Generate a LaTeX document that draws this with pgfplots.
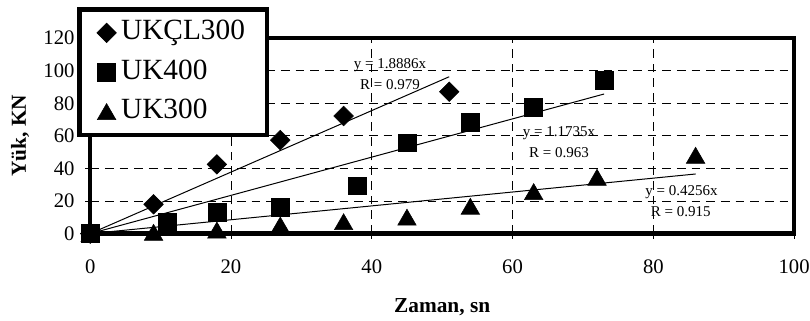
\documentclass[border=0pt]{standalone}
\usepackage{fontspec}
\setmainfont{Liberation Serif}
\usepackage{pgfplots}
\pgfplotsset{compat=1.18}
\begin{document}
\begin{tikzpicture}
\begin{axis}[name=ax,
  scale only axis, width=527.9pt, height=146.6pt,
  xmin=0, xmax=100, ymin=0, ymax=120,
  xtick={0,20,...,100}, ytick={0,20,...,120},
  /pgf/number format/assume math mode=true,
  tick label style={font=\fontsize{15.5}{18}\selectfont},
  xticklabel style={yshift=-12.5pt},
  yticklabel style={xshift=-4.5pt},
  axis line style={line width=3.3pt},
  tick align=outside, major tick length=3.75pt,
  tick style={black, line width=0.6pt},
  xtick pos=left, ytick pos=left,
  grid=major,
  major grid style={black, line width=0.6pt, dash pattern=on 6.5pt off 4.5pt},
  clip=false,
  xlabel={Zaman, sn}, ylabel={Yük, KN},
  label style={font=\fontsize{16}{19}\selectfont\bfseries},
  xlabel style={at={(axis description cs:0.5,0)}, anchor=base, yshift=-59pt},
  ylabel style={at={(axis description cs:-0.0913,0.5)}, anchor=base},
  legend style={at={(-0.0183,1.1575)}, anchor=north west, draw=black,
    line width=3.2pt, fill=white, font=\fontsize{22}{26}\selectfont,
    inner xsep=13pt, inner ysep=5.8pt, row sep=6pt,
    nodes={inner xsep=3.5pt, inner ysep=2pt, text height=15pt, text depth=4.5pt}},
  legend cell align=left,
  legend image code/.code={\draw[#1, line width=0.4pt] plot coordinates {(0pt,0pt)};},
]
% trend lines
\addplot[black, line width=0.75pt, no marks, forget plot] coordinates {(0,0) (51,96.3)};
\addplot[black, line width=0.75pt, no marks, forget plot] coordinates {(0,0) (73,85.7)};
\addplot[black, line width=0.75pt, no marks, forget plot] coordinates {(0,0) (86,36.6)};
% data
\addplot[only marks, mark=square*, mark size=5.2pt, mark options={rotate=45, fill=black, draw=black}]
  coordinates {(0,0) (9,18.0) (18,42.5) (27,57.4) (36,72.2) (51,87.1)};
\addlegendentry{UKÇL300}
\addplot[only marks, mark=square*, mark size=6.7pt, mark options={fill=black, draw=black}]
  coordinates {(0,0) (11,6.9) (18,13.1) (27,16.1) (38,29.4) (45,55.8) (54,68.3) (63,77.5) (73,94.3)};
\addlegendentry{UK400}
\addplot[only marks, mark=triangle*, mark size=8pt, mark options={yshift=-2pt, fill=black, draw=black}]
  coordinates {(0,0) (9,0.8) (18,2.2) (27,5.3) (36,7.3) (45,10.1) (54,16.8) (63,25.8) (72,34.6) (86,48.1)};
\addlegendentry{UK300}
% equations
\node[anchor=base, font=\fontsize{11.25}{13}\selectfont] at (axis cs:42.6,101.5) {y = 1.8886x};
\node[anchor=base, font=\fontsize{11.25}{13}\selectfont] at (axis cs:42.6,88.6) {R = 0.979};
\node[anchor=base, font=\fontsize{11.25}{13}\selectfont] at (axis cs:66.6,59.5) {y = 1.1735x};
\node[anchor=base, font=\fontsize{11.25}{13}\selectfont] at (axis cs:66.6,46.8) {R = 0.963};
\node[anchor=base, font=\fontsize{11.25}{13}\selectfont] at (axis cs:84.0,23.1) {y = 0.4256x};
\node[anchor=base, font=\fontsize{11.25}{13}\selectfont] at (axis cs:83.9,10.8) {R = 0.915};
\end{axis}
\pgfresetboundingbox
\path[use as bounding box] ([xshift=-67.65pt,yshift=-64.8pt]ax.south west) rectangle ([xshift=11.9pt,yshift=28.6pt]ax.north east);
\end{tikzpicture}
\end{document}
